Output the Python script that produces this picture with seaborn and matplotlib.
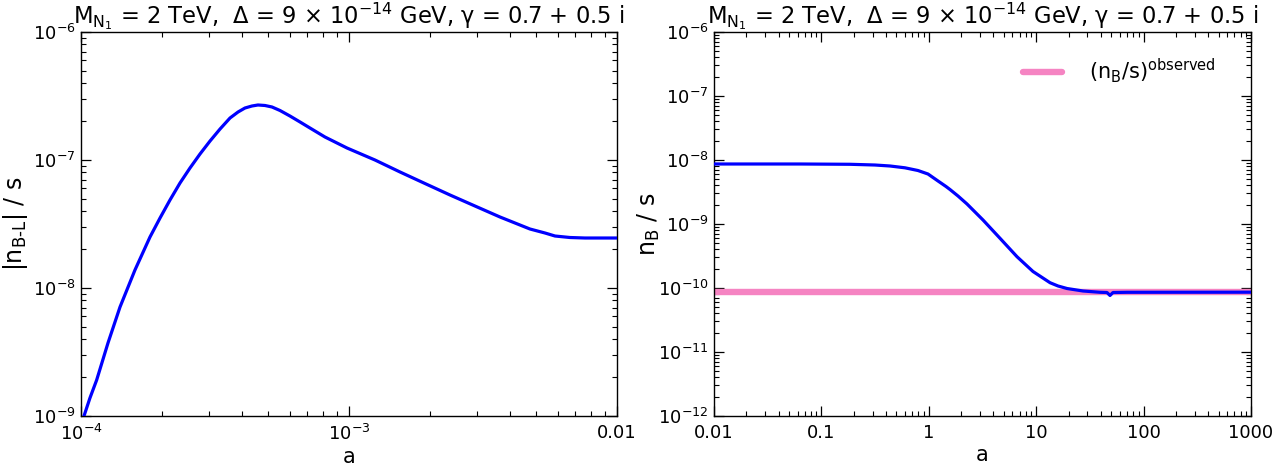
import matplotlib
matplotlib.use("Agg")
import matplotlib.pyplot as plt
import matplotlib.ticker as mticker
import seaborn as sns
import pandas as pd

# |n_{B-L}|/s as a function of a
a_bl = [1.026e-4, 1.080e-4, 1.144e-4, 1.261e-4, 1.398e-4, 1.590e-4, 1.809e-4,
        1.972e-4, 2.148e-4, 2.341e-4, 2.551e-4, 2.780e-4, 3.030e-4, 3.302e-4,
        3.597e-4, 3.854e-4, 4.091e-4, 4.345e-4, 4.574e-4, 4.858e-4, 5.160e-4,
        5.528e-4, 6.022e-4, 6.566e-4, 7.152e-4, 8.136e-4, 9.829e-4, 1.250e-3,
        1.550e-3, 1.921e-3, 2.381e-3, 2.952e-3, 3.660e-3, 4.163e-3, 4.734e-3,
        5.385e-3, 5.870e-3, 6.677e-3, 7.596e-3, 1.0e-2]
n_bl = [1.0e-9, 1.383e-9, 1.91e-9, 3.72e-9, 7.10e-9, 1.383e-8, 2.503e-8,
        3.523e-8, 4.87e-8, 6.61e-8, 8.66e-8, 1.114e-7, 1.407e-7, 1.746e-7,
        2.128e-7, 2.371e-7, 2.548e-7, 2.642e-7, 2.690e-7, 2.666e-7, 2.595e-7,
        2.436e-7, 2.206e-7, 1.981e-7, 1.778e-7, 1.512e-7, 1.241e-7, 1.0e-7,
        8.06e-8, 6.55e-8, 5.33e-8, 4.37e-8, 3.586e-8, 3.219e-8, 2.89e-8,
        2.690e-8, 2.548e-8, 2.480e-8, 2.458e-8, 2.458e-8]

# n_B/s as a function of a
a_b = [0.01, 0.0632, 0.1846, 0.3155, 0.4352, 0.6005, 0.7931, 0.9830, 1.218,
       1.446, 1.575, 1.870, 2.269, 3.197, 4.603, 6.625, 9.337, 13.45, 15.96,
       19.36, 27.29, 39.26, 45.62, 48.66, 51.89, 70.03, 1000.0]
n_b = [8.66e-9, 8.66e-9, 8.57e-9, 8.35e-9, 8.06e-9, 7.55e-9, 6.85e-9, 6.04e-9,
       4.70e-9, 3.855e-9, 3.459e-9, 2.739e-9, 2.054e-9, 1.155e-9, 5.98e-10,
       3.084e-10, 1.811e-10, 1.210e-10, 1.075e-10, 9.82e-11, 8.98e-11, 8.57e-11,
       8.5e-11, 7.64e-11, 8.5e-11, 8.57e-11, 8.6e-11]

nb_observed = 8.8e-11

# tick positions and labels
left_xticks = [1e-4, 1e-3, 1e-2]
left_xlabels = [r"$10^{-4}$", r"$10^{-3}$", "0.01"]
left_yticks = [1e-9, 1e-8, 1e-7, 1e-6]
left_ylabels = [r"$10^{-9}$", r"$10^{-8}$", r"$10^{-7}$", r"$10^{-6}$"]
right_xticks = [0.01, 0.1, 1, 10, 100, 1000]
right_xlabels = ["0.01", "0.1", "1", "10", "100", "1000"]
right_yticks = [1e-12, 1e-11, 1e-10, 1e-9, 1e-8, 1e-7, 1e-6]
right_ylabels = [r"$10^{-12}$", r"$10^{-11}$", r"$10^{-10}$", r"$10^{-9}$",
                 r"$10^{-8}$", r"$10^{-7}$", r"$10^{-6}$"]

title = r"M$_{N_1}$ = 2 TeV,  Δ = 9 × 10$^{-14}$ GeV, γ = 0.7 + 0.5 i"

sns.set_theme(style="ticks")
plt.rcParams["font.family"] = ["DejaVu Sans"]
plt.rcParams["mathtext.default"] = "regular"
plt.rcParams["text.color"] = "black"
plt.rcParams["axes.labelcolor"] = "black"

fig = plt.figure(figsize=(12.87, 4.73), dpi=100)
W, H = 1287, 473
ax1 = fig.add_axes([81 / W, 1 - 416 / H, (617 - 81) / W, (416 - 32) / H])
ax2 = fig.add_axes([714 / W, 1 - 416 / H, (1251 - 714) / W, (416 - 32) / H])

df_bl = pd.DataFrame({"a": a_bl, "n": n_bl})
df_b = pd.DataFrame({"a": a_b, "n": n_b})

sns.lineplot(data=df_bl, x="a", y="n", ax=ax1, color="#0000ff", lw=2.3, zorder=3)

ax2.axhline(nb_observed, color="#f584c2", lw=4.6, zorder=2,
            label=r"(n$_B$/s)$^{observed}$")
sns.lineplot(data=df_b, x="a", y="n", ax=ax2, color="#0000ff", lw=2.3, zorder=3)

for ax in (ax1, ax2):
    ax.set_xscale("log")
    ax.set_yscale("log")
    for s in ax.spines.values():
        s.set_linewidth(1.0)
        s.set_color("black")
    ax.tick_params(which="both", direction="in", top=True, right=True,
                   labelsize=13, colors="black")
    ax.tick_params(which="major", length=7, width=0.9)
    ax.tick_params(axis="x", which="major", pad=6)
    ax.tick_params(axis="y", which="major", pad=4)
    ax.tick_params(which="minor", length=3.5, width=0.8)
    ax.set_xlabel("a", fontsize=15, color="black", labelpad=2)
    ax.set_title(title, fontsize=16.3, pad=3, color="black")

ax1.set_xlim(1e-4, 1e-2)
ax1.set_ylim(1e-9, 1e-6)
ax1.set_xticks(left_xticks, left_xlabels)
ax1.set_yticks(left_yticks, left_ylabels)
ax1.set_ylabel(r"|n$_{B\text{-}L}$| / s", fontsize=17, labelpad=2)

ax2.set_xlim(0.01, 1000)
ax2.set_ylim(1e-12, 1e-6)
ax2.set_xticks(right_xticks, right_xlabels)
ax2.set_yticks(right_yticks, right_ylabels)
ax2.set_ylabel(r"n$_B$ / s", fontsize=17, labelpad=-3)

for ax in (ax1, ax2):
    ax.xaxis.set_minor_formatter(mticker.NullFormatter())
    ax.yaxis.set_minor_formatter(mticker.NullFormatter())
    ax.yaxis.set_minor_locator(mticker.LogLocator(base=10, subs=range(2, 10), numticks=20))
    ax.xaxis.set_minor_locator(mticker.LogLocator(base=10, subs=range(2, 10), numticks=20))

ax2.legend(loc="upper right", bbox_to_anchor=(0.97, 0.985), frameon=False,
           fontsize=15, handlelength=1.9, handletextpad=1.3)

fig.savefig("out.png", dpi=100, facecolor="white")
